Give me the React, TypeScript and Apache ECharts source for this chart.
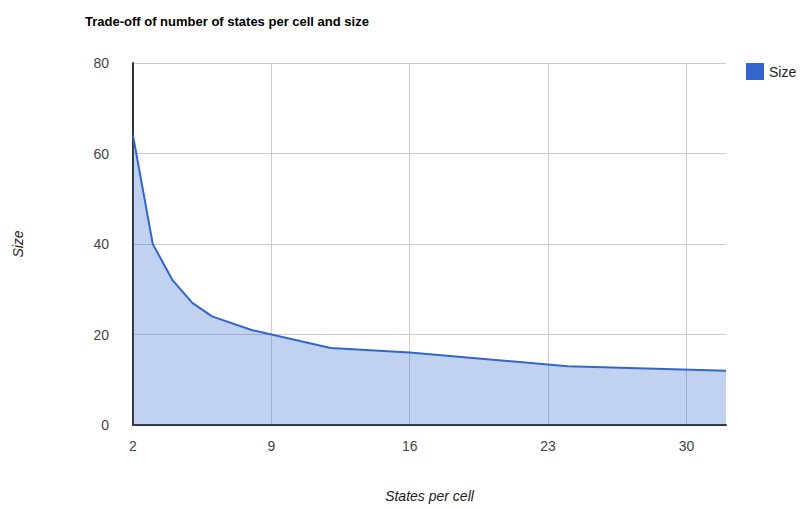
import React, { useEffect, useRef } from "react";
import * as echarts from "echarts";

const statesPerCell = [2, 3, 4, 5, 6, 8, 9, 12, 16, 24, 32];
const sizeValues = [64, 40, 32, 27, 24, 21, 20, 17, 16, 13, 12];
const xTicks = [2, 9, 16, 23, 30];
const seriesName = "Size";

export default function App() {
  const ref = useRef<HTMLDivElement>(null);
  useEffect(() => {
    if (!ref.current) return;
    const chart = echarts.init(ref.current, null, { renderer: "svg" });
    const font = "Arial, 'Liberation Sans', sans-serif";
    chart.setOption({
      animation: false,
      backgroundColor: "#ffffff",
      title: {
        text: "Trade-off of number of states per cell and size",
        left: 80,
        top: 10,
        textStyle: { fontFamily: font, fontSize: 13, fontWeight: "bold", color: "#000" },
      },
      legend: {
        left: 741,
        top: 58,
        icon: "rect",
        itemWidth: 18,
        itemHeight: 17,
        itemGap: 6,
        textStyle: { fontFamily: font, fontSize: 14, color: "#222" },
        data: [seriesName],
      },
      grid: { left: 133, right: 84, top: 63, bottom: 81, containLabel: false },
      xAxis: {
        type: "value",
        min: 2,
        max: 32,
        name: "States per cell",
        nameLocation: "middle",
        nameGap: 64,
        nameTextStyle: { fontFamily: font, fontSize: 14, fontStyle: "italic", color: "#222" },
        axisLine: { show: true, lineStyle: { color: "#333", width: 2 } },
        axisTick: { show: false, customValues: xTicks },
        axisLabel: { customValues: xTicks, margin: 14, fontFamily: font, fontSize: 14, color: "#444" },
        splitLine: { show: true, lineStyle: { color: "#cccccc", width: 1 } },
      },
      yAxis: {
        type: "value",
        min: 0,
        max: 80,
        interval: 20,
        name: "Size",
        nameLocation: "middle",
        nameGap: 108,
        nameTextStyle: { fontFamily: font, fontSize: 14, fontStyle: "italic", color: "#222" },
        axisLine: { show: true, lineStyle: { color: "#333", width: 2 } },
        axisTick: { show: false },
        axisLabel: { margin: 24, fontFamily: font, fontSize: 14, color: "#444" },
        splitLine: { show: true, lineStyle: { color: "#cccccc", width: 1 } },
      },
      series: [
        {
          name: seriesName,
          type: "line",
          data: statesPerCell.map((x, i) => [x, sizeValues[i]]),
          showSymbol: false,
          symbol: "none",
          lineStyle: { color: "#3366cc", width: 2 },
          itemStyle: { color: "#3366cc" },
          areaStyle: { color: "#3366cc", opacity: 0.3 },
        },
      ],
    });
    return () => chart.dispose();
  }, []);
  return <div ref={ref} style={{ width: 810, height: 508, position: "absolute", left: 0, top: 0 }} />;
}
